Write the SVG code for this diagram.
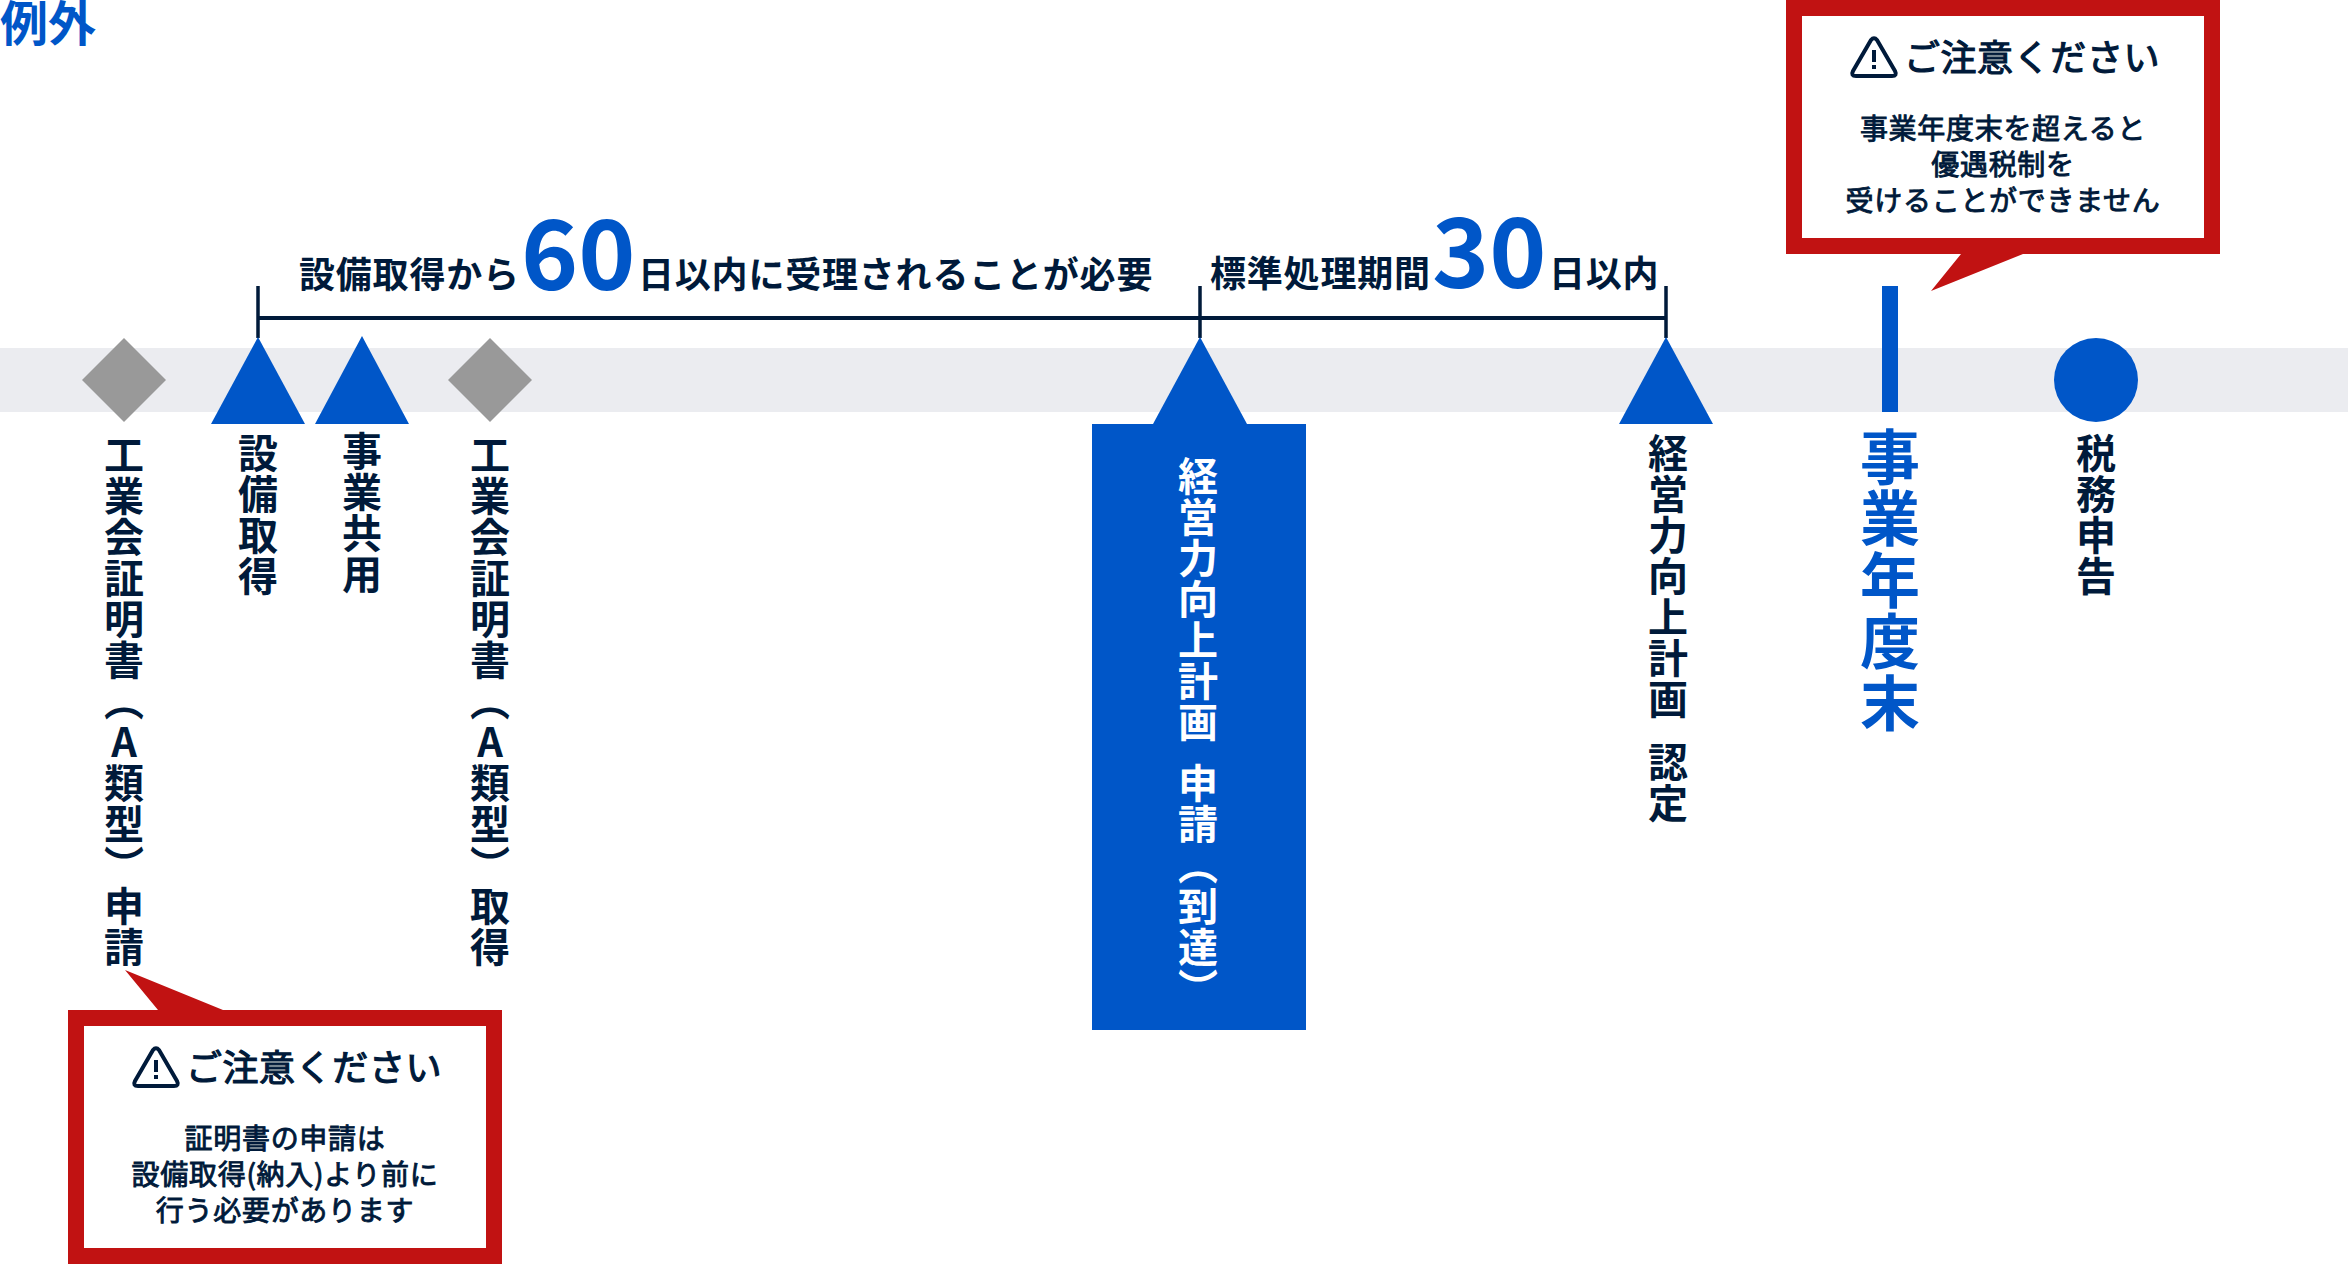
<svg xmlns="http://www.w3.org/2000/svg" width="2348" height="1264" viewBox="0 0 2348 1264">
<style>
text{font-family:"Noto Sans CJK JP","Noto Sans",sans-serif;font-weight:700;fill:#001a3a}
.v{writing-mode:vertical-rl;text-orientation:upright;font-size:40px;letter-spacing:1px;text-anchor:start}
.s{font-size:36px;letter-spacing:.8px;text-anchor:start}
.big{font-size:97px;fill:#0056c8;font-weight:700}
.t{font-size:36px;font-weight:400;letter-spacing:.6px;text-anchor:middle;stroke:#001a3a;stroke-width:1.2px}
.b{font-size:28px;font-weight:400;text-anchor:middle;letter-spacing:.7px;stroke:#001a3a;stroke-width:.9px}
.blue{fill:#0056c8}.g{fill:#999}.r{fill:#c11212}
.ic{fill:none;stroke:#001a3a;stroke-width:4;stroke-linejoin:round}
</style>
<rect width="2348" height="1264" fill="#fff"/>
<rect x="0" y="348" width="2348" height="64" fill="#ebecf0"/>
<text x="0" y="41" style="font-size:48px;fill:#0056c8">例外</text>
<g id="connectors" fill="none" stroke="#001a3a">
<path d="M258 286V338M1200 286V338M1666 286V338" stroke-width="3.5"/>
<path d="M258 318H1666" stroke-width="4"/>
</g>
<g id="span-60"><text x="299" y="288" class="s">設備取得から</text><text x="521" y="290" class="big">60</text><text x="638" y="288" class="s">日以内に受理されることが必要</text></g>
<g id="span-30"><text x="1210" y="287" class="s">標準処理期間</text><text x="1432" y="288" class="big">30</text><text x="1549" y="287" class="s">日以内</text></g>
<g id="n1"><path class="g" d="M124 338L166 380L124 422L82 380Z"/><text x="124" y="435" class="v">工業会証明書（A類型）申請</text></g>
<g id="n2"><path class="blue" d="M258 337L305 424H211Z"/><text x="258" y="433" class="v">設備取得</text></g>
<g id="n3"><path class="blue" d="M362 336L409 424H315Z"/><text x="362" y="431" class="v">事業共用</text></g>
<g id="n4"><path class="g" d="M490 338L532 380L490 422L448 380Z"/><text x="490" y="435" class="v">工業会証明書（A類型）取得</text></g>
<g id="n5"><path class="blue" d="M1200 337L1247 424H1153Z"/><rect class="blue" x="1092" y="424" width="214" height="606"/><text x="1198" y="455.500" class="v" style="fill:#fff">経営力向上計画<tspan x="1198" y="763">申請（到達）</tspan></text></g>
<g id="n6"><path class="blue" d="M1666 337L1713 424H1619Z"/><text x="1668" y="433" class="v">経営力向上計画<tspan x="1668" y="742">認定</tspan></text></g>
<g id="n7"><rect class="blue" x="1882" y="286" width="16" height="126"/><text x="1890" y="427" class="v" style="font-size:60px;letter-spacing:1.5px;fill:#0056c8">事業年度末</text></g>
<g id="n8"><circle class="blue" cx="2096" cy="380" r="42"/><text x="2096" y="433" class="v">税務申告</text></g>
<g id="callout-top"><path class="r" d="M1786 0H2220V254H2023L1931 291L1961 254H1786Z"/><rect x="1802" y="16" width="402" height="222" fill="#fff"/>
<path class="ic" d="M1871 40Q1874 36.500 1877 40L1895 71Q1897.500 76 1892 76H1856Q1850.500 76 1853 71Z"/><path class="ic" d="M1874 50V62M1874 65V69"/>
<text x="2032" y="71" class="t">ご注意ください</text>
<text x="2003" y="139" class="b">事業年度末を超えると</text><text x="2003" y="175" class="b">優遇税制を</text><text x="2003" y="211" class="b">受けることができません</text></g>
<g id="callout-bottom"><path class="r" d="M68 1010H158L125 970L223 1010H502V1264H68Z"/><rect x="84" y="1026" width="402" height="222" fill="#fff"/>
<path class="ic" d="M153 1050Q156 1046.500 159 1050L177 1081Q179.500 1086 174 1086H138Q132.500 1086 135 1081Z"/><path class="ic" d="M156 1060V1072M156 1075V1079"/>
<text x="314" y="1081" class="t">ご注意ください</text>
<text x="285" y="1149" class="b">証明書の申請は</text><text x="285" y="1185" class="b">設備取得(納入)より前に</text><text x="285" y="1221" class="b">行う必要があります</text></g>
</svg>
